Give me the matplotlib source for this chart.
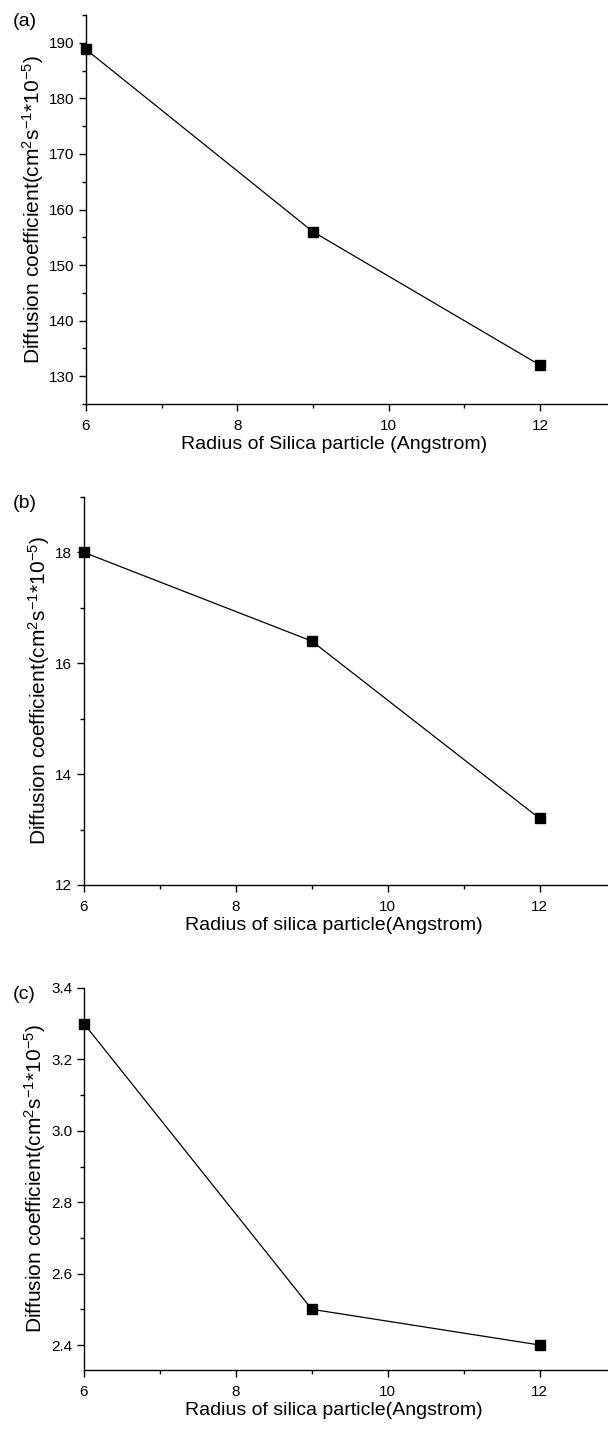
import matplotlib.pyplot as plt
from matplotlib.ticker import MultipleLocator

plt.rcParams['font.family'] = ['Liberation Sans', 'DejaVu Sans']
plt.rcParams['mathtext.fontset'] = 'custom'
plt.rcParams['mathtext.rm'] = 'Liberation Sans'
plt.rcParams['mathtext.it'] = 'Liberation Sans'

# Datos
radios = [6, 9, 12]
difusion_a = [188.8, 156.0, 132.0]
difusion_b = [18.0, 16.4, 13.2]
difusion_c = [3.3, 2.5, 2.4]

etiquetas = ['(a)', '(b)', '(c)']
xlabels = ['Radius of Silica particle (Angstrom)',
           'Radius of silica particle(Angstrom)',
           'Radius of silica particle(Angstrom)']
ylabel = r'Diffusion coefficient(cm$^{2}$s$^{-1}$*10$^{-5}$)'

ylims = [(125, 195), (12, 19), (2.33, 3.4)]
y_major = [10, 2, 0.2]
y_minor = [5, 1, 0.1]
y_fmt = ['{x:.0f}', '{x:.0f}', '{x:.1f}']

W, H = 608, 1436
# (left, top, bottom) en pixeles
cajas = [(86, 15, 404), (84, 497, 885), (84, 988, 1370)]

fig = plt.figure(figsize=(W / 100, H / 100), dpi=100)

for i, datos in enumerate([difusion_a, difusion_b, difusion_c]):
    l, t, b = cajas[i]
    ax = fig.add_axes([l / W, (H - b) / H, (W - l) / W, (b - t) / H])
    ax.plot(radios, datos, color='black', lw=0.9, marker='s', ms=6.5,
            mfc='black', mec='black', clip_on=False)
    ax.set_xlim(6, 12.9)
    ax.set_ylim(*ylims[i])
    ax.spines['top'].set_visible(False)
    ax.spines['right'].set_visible(False)
    for s in ['left', 'bottom']:
        ax.spines[s].set_linewidth(1.0)
    ax.xaxis.set_major_locator(MultipleLocator(2))
    ax.xaxis.set_minor_locator(MultipleLocator(1))
    ax.yaxis.set_major_locator(MultipleLocator(y_major[i]))
    ax.yaxis.set_minor_locator(MultipleLocator(y_minor[i]))
    ax.yaxis.set_major_formatter(y_fmt[i])
    ax.tick_params(which='major', direction='out', length=5, width=1.0,
                   labelsize=11)
    ax.tick_params(axis='x', which='major', pad=6)
    ax.tick_params(which='minor', direction='out', length=3, width=1.0)
    ax.set_xlabel(xlabels[i], fontsize=14, labelpad=2,
                  x=(334 - l) / (W - l))
    ax.set_ylabel(ylabel, fontsize=15, labelpad=2)
    fig.text(13 / W, 1 - (t - 2) / H, etiquetas[i], fontsize=14,
             ha='left', va='top')

fig.savefig('out.png', dpi=100)
